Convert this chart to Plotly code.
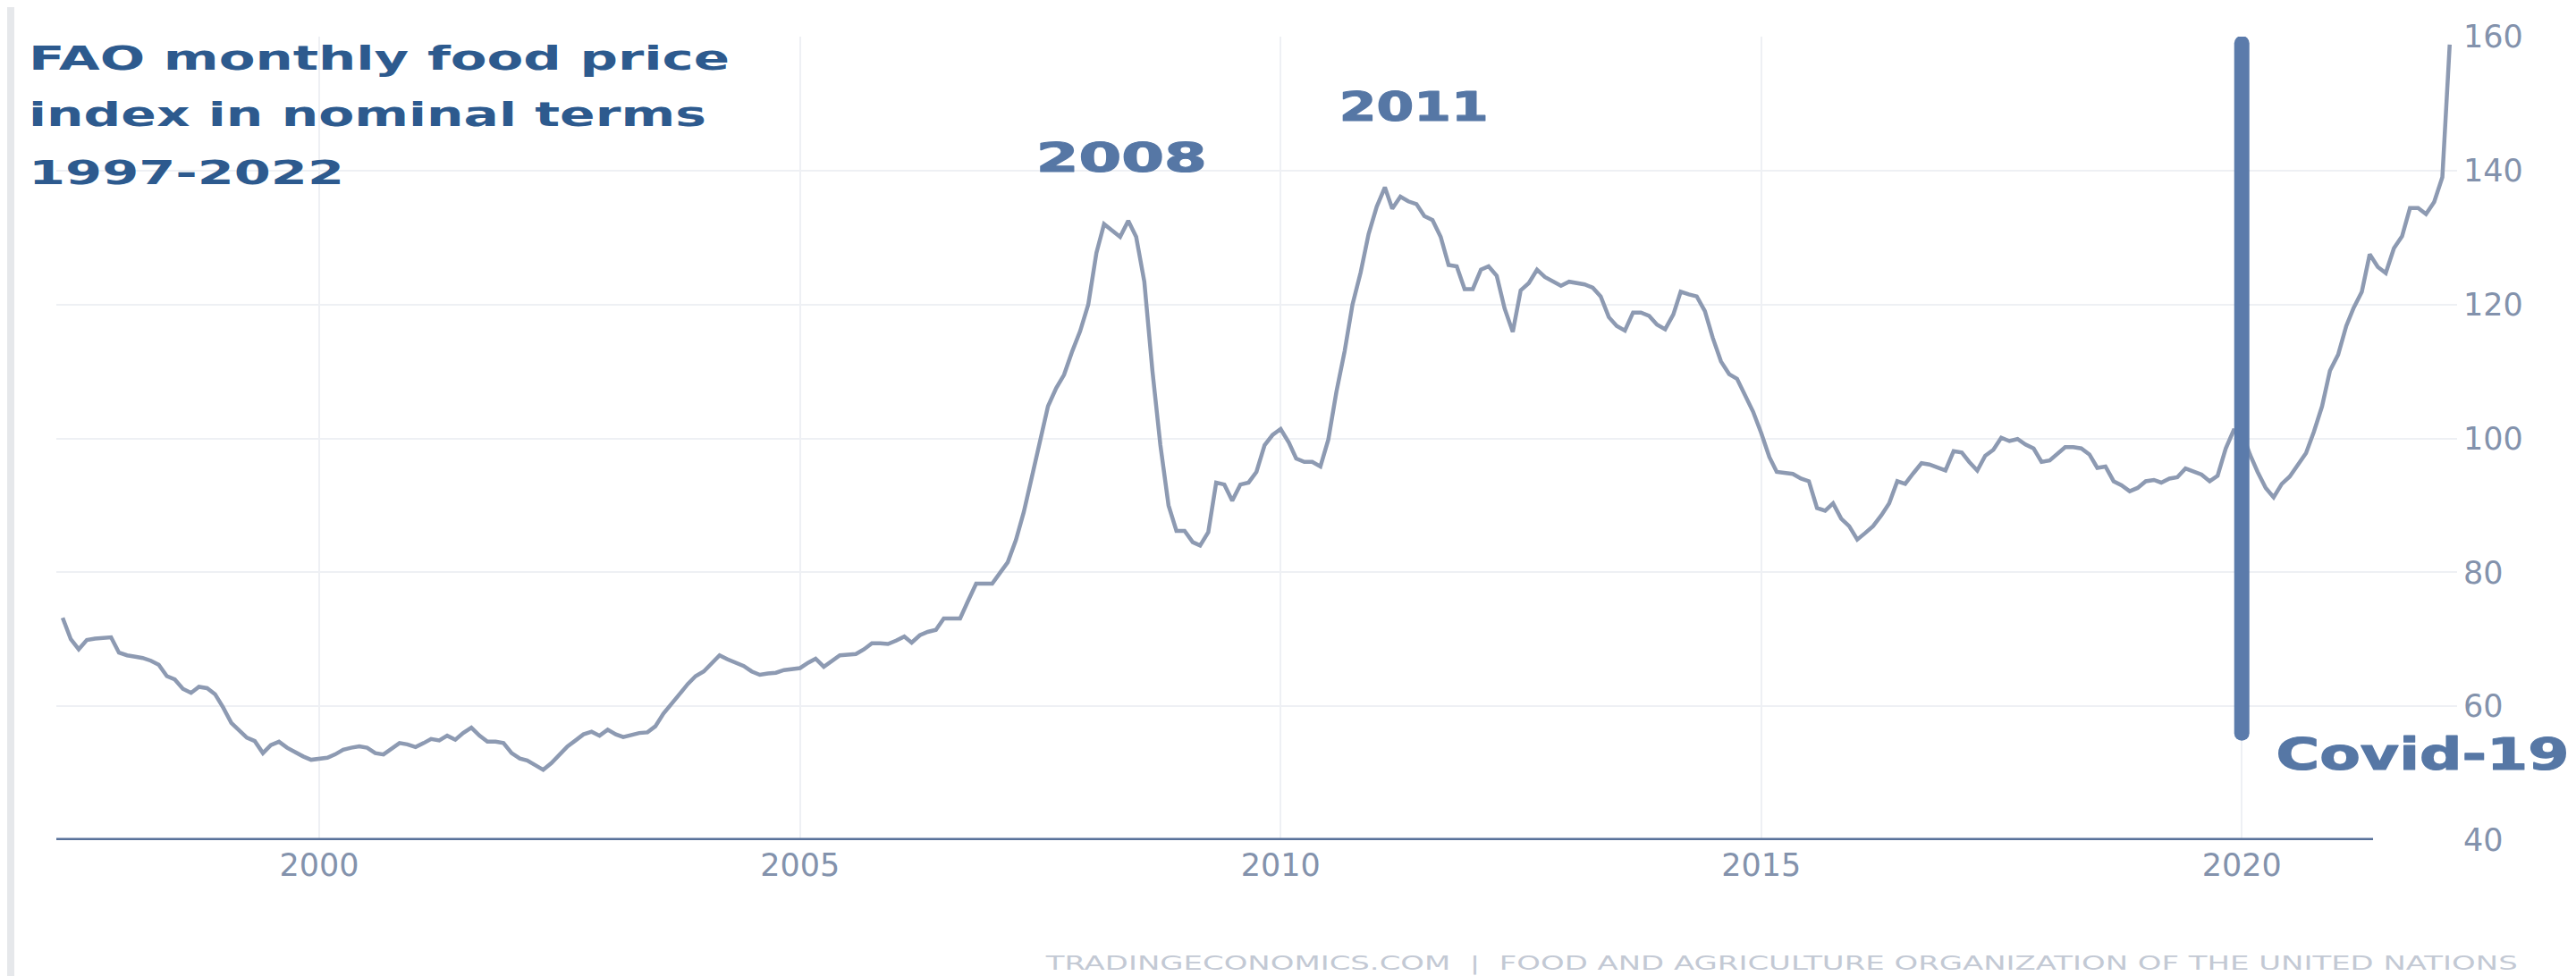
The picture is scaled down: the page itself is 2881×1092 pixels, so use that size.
import pandas as pd
import plotly.graph_objects as go

# FAO food price index (nominal), monthly; series starts May 1997
v1997 = [73.2, 70.0, 68.5, 69.9, 70.1, 70.2, 70.3, 68.0]
v1998 = [67.6, 67.4, 67.2, 66.8, 66.2, 64.5, 64.0, 62.6, 62.0, 62.9, 62.7, 61.8]
v1999 = [59.8, 57.5, 56.5, 55.3, 54.8, 53.0, 54.2, 54.7, 53.8, 53.1, 52.5, 52.0]
v2000 = [52.1, 52.3, 52.8, 53.5, 53.8, 54.0, 53.8, 53.0, 52.8, 53.6, 54.5, 54.3]
v2001 = [53.9, 54.5, 55.1, 54.9, 55.6, 55.0, 56.0, 56.8, 55.6, 54.7, 54.7, 54.5]
v2002 = [53.0, 52.2, 51.9, 51.2, 50.5, 51.5, 52.7, 54.0, 54.9, 55.8, 56.2, 55.6]
v2003 = [56.5, 55.8, 55.4, 55.7, 56.0, 56.1, 57.0, 58.9, 60.3, 61.8, 63.3, 64.5]
v2004 = [65.2, 66.5, 67.6, 67.0, 66.5, 66.0, 65.2, 64.7, 64.9, 65.0, 65.4, 65.6]
v2005 = [65.7, 66.5, 67.1, 65.9, 66.7, 67.6, 67.7, 67.8, 68.5, 69.4, 69.4, 69.3]
v2006 = [69.8, 70.4, 69.5, 70.6, 71.1, 71.4, 73.1, 73.1, 73.1, 75.7, 78.3, 78.3]
v2007 = [78.3, 80.0, 81.5, 84.8, 89.0, 94.3, 99.5, 104.8, 107.5, 109.5, 113.0, 116.0]
v2008 = [120.0, 127.7, 132.0, 131.0, 130.1, 132.5, 130.1, 123.4, 110.0, 99.0, 90.0, 86.2]
v2009 = [86.2, 84.5, 84.0, 86.0, 93.4, 93.1, 90.7, 93.1, 93.4, 95.0, 99.0, 100.5]
v2010 = [101.4, 99.4, 97.0, 96.5, 96.5, 95.8, 99.8, 107.0, 113.0, 120.0, 124.8, 130.5]
v2011 = [134.6, 137.5, 134.3, 136.1, 135.4, 135.0, 133.2, 132.6, 130.1, 125.9, 125.7, 122.3]
v2012 = [122.3, 125.2, 125.7, 124.3, 119.4, 115.9, 122.1, 123.2, 125.2, 124.1, 123.5, 122.8]
v2013 = [123.4, 123.2, 123.0, 122.5, 121.2, 118.1, 116.8, 116.1, 118.8, 118.8, 118.3, 117.0]
v2014 = [116.3, 118.5, 121.9, 121.5, 121.2, 119.0, 115.0, 111.5, 109.6, 108.9, 106.5, 104.0]
v2015 = [100.8, 97.2, 95.0, 94.8, 94.7, 94.0, 93.6, 89.6, 89.2, 90.3, 88.0, 86.9]
v2016 = [84.9, 85.9, 86.9, 88.5, 90.3, 93.6, 93.2, 94.8, 96.3, 96.1, 95.7, 95.2]
v2017 = [98.1, 97.9, 96.5, 95.2, 97.4, 98.3, 100.1, 99.6, 99.9, 99.1, 98.5, 96.5]
v2018 = [96.7, 97.8, 98.7, 98.7, 98.5, 97.6, 95.6, 95.8, 93.6, 93.0, 92.1, 92.6]
v2019 = [93.6, 93.8, 93.4, 94.0, 94.2, 95.5, 95.0, 94.6, 93.6, 94.4, 98.5, 101.2]
v2020 = [101.0, 97.6, 95.0, 92.6, 91.2, 93.2, 94.3, 96.0, 97.8, 101.0, 104.8, 110.1]
v2021 = [112.5, 116.8, 119.5, 121.9, 127.5, 125.6, 124.7, 128.4, 130.2, 134.4, 134.4, 133.5]
v2022 = [135.3, 139.0, 158.8]

series_start = "1997-05-01"
x_range = ["1997-04-07", "2022-03-29"]
y_range = [40, 160]
y_ticks = [40, 60, 80, 100, 120, 140, 160]
x_ticks = ["2000-01-01", "2005-01-01", "2010-01-01", "2015-01-01", "2020-01-01"]
x_ticktext = ["2000", "2005", "2010", "2015", "2020"]

title_lines = ["FAO monthly food price", "index in nominal terms", "1997-2022"]
event_labels = ["2008", "2011", "Covid-19"]
event_x = ["2008-05-04", "2011-05-22", "2021-11-18"]
event_y = [141.9, 149.5, 52.8]
event_size = [44, 44, 50]
covid_date = "2020-01-01"
covid_span = [56, 159]
source_text = "TRADINGECONOMICS.COM  |  FOOD AND AGRICULTURE ORGANIZATION OF THE UNITED NATIONS"

values = (v1997 + v1998 + v1999 + v2000 + v2001 + v2002 + v2003 + v2004 + v2005 + v2006
          + v2007 + v2008 + v2009 + v2010 + v2011 + v2012 + v2013 + v2014 + v2015 + v2016
          + v2017 + v2018 + v2019 + v2020 + v2021 + v2022)
dates = pd.date_range(series_start, periods=len(values), freq="MS")

W, H = 2881, 1092
ML, MR, MT, MB = 55, 141, 33, 160
PW, PH = W - ML - MR, H - MT - MB

fig = go.Figure()
fig.add_trace(go.Scatter(x=dates, y=values, mode="lines",
                         line=dict(color="#8d9ab2", width=4.5),
                         hoverinfo="skip", showlegend=False))

fig.update_layout(
    width=W, height=H,
    margin=dict(l=ML, r=MR, t=MT, b=MB, pad=0),
    paper_bgcolor="white", plot_bgcolor="white",
    font=dict(family="DejaVu Sans", color="#8392ac", size=36),
    xaxis=dict(type="date", range=x_range, tickvals=x_ticks, ticktext=x_ticktext,
               showgrid=True, gridcolor="#eef0f4", gridwidth=2, zeroline=False,
               showline=False, ticks="", tickfont=dict(size=35, color="#8392ac"),
               ticklabelstandoff=4),
    yaxis=dict(range=y_range, tickvals=y_ticks, side="right",
               showgrid=True, gridcolor="#eef0f4", gridwidth=2, zeroline=False,
               showline=False, ticks="", tickfont=dict(size=35, color="#8392ac"),
               ticklabelstandoff=6),
)

# x axis base line (ends before the last data)
fig.add_shape(type="line", xref="paper", yref="y", x0=0, x1=0.965, y0=40, y1=40,
              line=dict(color="#58719a", width=5))
# Covid-19 marker bar
fig.add_shape(type="line", xref="x", yref="y", x0=covid_date, x1=covid_date,
              y0=covid_span[0], y1=covid_span[1],
              line=dict(color="#5b7bab", width=17))
# page edge strips
fig.add_shape(type="rect", xref="paper", yref="paper", x0=-ML / PW, x1=-47 / PW,
              y0=-MB / PH, y1=(H - MB) / PH, line=dict(width=0),
              fillcolor="#e6e8eb", layer="below")
fig.add_shape(type="rect", xref="paper", yref="paper", x0=(2873 - ML) / PW, x1=(W - ML) / PW,
              y0=-MB / PH, y1=(H - MB) / PH, line=dict(width=0),
              fillcolor="#e6e8eb", layer="below")

# title lines
title_y = [(931.6 - 57) / PH, (931.6 - 120) / PH, (931.6 - 185) / PH]
for txt, yy in zip(title_lines, title_y):
    fig.add_annotation(text=txt, xref="paper", yref="paper", x=(22 - ML) / PW, y=yy,
                       xanchor="left", yanchor="middle", showarrow=False,
                       font=dict(family="DejaVu Sans", size=38, color="#2d5a8e", weight="bold"))

for txt, xx, yy, sz in zip(event_labels, event_x, event_y, event_size):
    fig.add_annotation(text=txt, x=xx, y=yy, xanchor="center", yanchor="middle",
                       showarrow=False,
                       font=dict(family="DejaVu Sans", size=sz, color="#5677a5", weight="bold"))

fig.add_annotation(text=source_text, xref="paper", yref="paper", x=(2810 - ML) / PW,
                   y=(931.6 - 1070) / PH, xanchor="right", yanchor="middle", showarrow=False,
                   font=dict(family="DejaVu Sans", size=22, color="#c3c9d4"))

# widen the lettering horizontally (the original uses an extended, heavy typeface)
post = """
var gd = document.getElementById('{plot_id}');
var spec = {'0':[784,'s',0],'1':[758,'s',0],'2':[353,'s',0],'3':[191,'m',1.2],'4':[167,'m',1.2],'5':[328,'m',1.2],'6':[1648,'e',0]};
gd.querySelectorAll('g.annotation').forEach(function(g){
  var s = spec[g.getAttribute('data-index')]; if(!s) return;
  var t = g.querySelector('text.annotation-text'); if(!t) return;
  var b = t.getBBox(); if(!b.width) return;
  var sx = s[0] / b.width;
  var ax = s[1]=='s' ? b.x : (s[1]=='e' ? b.x + b.width : b.x + b.width/2);
  t.setAttribute('transform','translate('+ax+',0) scale('+sx+',1) translate('+(-ax)+',0)');
  if (s[2] > 0) {
    t.style.stroke = t.style.fill;
    t.style.strokeWidth = s[2] + 'px';
    t.style.strokeLinejoin = 'round';
  }
});
gd.querySelectorAll('.shapelayer path[data-index="1"]').forEach(function(p){
  p.style.strokeLinecap = 'round';
});
"""

fig.write_html("out.html", post_script=post)
